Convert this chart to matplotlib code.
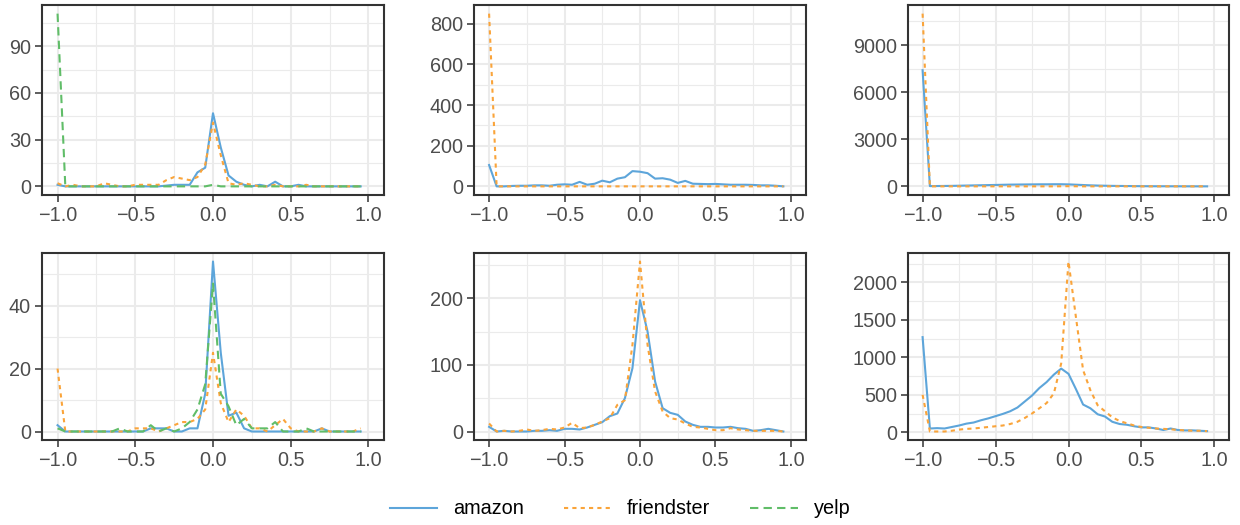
import numpy as np
import matplotlib
matplotlib.use("Agg")
import matplotlib.pyplot as plt
from matplotlib.ticker import MultipleLocator

plt.rcParams['font.family'] = ['Liberation Sans', 'DejaVu Sans']

# bin centres shared by every panel
x = [-1.0, -0.95, -0.9, -0.85, -0.8, -0.75, -0.7, -0.65, -0.6, -0.55,
     -0.5, -0.45, -0.4, -0.35, -0.3, -0.25, -0.2, -0.15, -0.1, -0.05,
     0.0, 0.05, 0.1, 0.15, 0.2, 0.25, 0.3, 0.35, 0.4, 0.45,
     0.5, 0.55, 0.6, 0.65, 0.7, 0.75, 0.8, 0.85, 0.9, 0.95]

# top row
p1_amazon = [1, 0, 0, 0, 0, 0, 0, 0, 0, 0, 0, 0, 0, 0, 0.5, 1, 1, 1, 9, 12,
             47, 25, 7, 3, 1, 0, 1, 0, 3, 0, 0, 1, 0, 0, 0, 0, 0, 0, 0, 0]
p1_friendster = [2, 0, 1, 0, 0, 0, 2, 1, 0, 0, 1, 1, 1, 1, 4, 6, 5, 4, 6, 14,
                 41, 20, 2, 1, 2, 1, 0, 0, 1, 0, 0, 0, 1, 0, 0, 0, 0, 0, 0, 0]
p1_yelp = [111, 0, 0, 0, 0, 0, 0, 0, 0, 0, 0, 0, 0, 0, 0, 0, 0, 0, 0, 0,
           1, 0, 0, 0, 0, 0, 0, 0, 0, 0, 0, 0, 0, 0, 0, 0, 0, 0, 0, 0]

p2_amazon = [105, 0, 0, 2, 3, 3, 5, 5, 3, 8, 10, 8, 22, 8, 13, 28, 20, 38, 45, 75,
             72, 65, 38, 40, 33, 17, 27, 13, 12, 11, 12, 10, 8, 8, 8, 7, 5, 5, 3, 0]
p2_friendster = [850, 0, 0, 0, 0, 0, 0, 0, 0, 0, 0, 0, 0, 0, 0, 0, 0, 0, 0, 0,
                 0, 0, 0, 0, 0, 0, 0, 0, 0, 0, 0, 0, 0, 0, 0, 0, 0, 0, 0, 0]

p3_amazon = [7400, 20, 25, 30, 35, 45, 55, 65, 75, 85, 95, 105, 115, 120, 125, 130, 135, 135, 140, 140,
             130, 110, 90, 70, 55, 45, 35, 30, 25, 20, 15, 12, 10, 10, 8, 8, 6, 5, 5, 4]
p3_friendster = [11000, 5, 5, 5, 5, 5, 5, 5, 5, 5, 5, 5, 5, 5, 5, 5, 5, 5, 5, 10,
                 15, 10, 5, 5, 5, 5, 5, 5, 5, 5, 5, 5, 5, 5, 5, 5, 5, 5, 5, 5]

# bottom row
p4_amazon = [2, 0, 0, 0, 0, 0, 0, 0, 0, 0, 0, 0, 1, 1, 1, 0, 0, 1, 1, 12,
             54, 25, 5, 6, 1, 0, 0, 0, 0, 0, 0, 0, 0, 0, 1, 0, 0, 0, 0, 0]
p4_friendster = [20, 0, 0, 0, 0, 0, 0, 0, 0, 0, 1, 1, 1, 0, 1, 2, 3, 3, 4, 7,
                 25, 9, 3, 7, 5, 1, 1, 0, 2, 4, 1, 0, 0, 0, 1, 0, 0, 0, 0, 1]
p4_yelp = [1, 0, 0, 0, 0, 0, 0, 0, 1, 0, 0, 0, 2, 0, 1, 0, 1, 3, 7, 15,
           47, 12, 8, 2, 4, 1, 1, 1, 3, 0, 0, 0, 1, 0, 0, 0, 0, 0, 0, 0]

p5_amazon = [7, 0, 1, 0, 0, 0, 1, 1, 2, 1, 4, 4, 3, 6, 10, 14, 23, 27, 50, 95,
             197, 150, 75, 35, 28, 25, 15, 10, 7, 7, 6, 6, 7, 5, 4, 1, 2, 4, 2, 0]
p5_friendster = [12, 0, 1, 0, 1, 3, 1, 2, 4, 3, 6, 13, 5, 6, 10, 15, 20, 40, 47, 130,
                 255, 130, 60, 30, 20, 18, 12, 7, 6, 4, 2, 2, 5, 3, 2, 1, 1, 1, 1, 0]

p6_amazon = [1270, 50, 55, 50, 70, 90, 115, 130, 160, 185, 215, 245, 280, 330, 410, 490, 590, 670, 770, 850,
             780, 580, 370, 320, 240, 210, 140, 110, 100, 80, 65, 65, 50, 30, 50, 30, 25, 25, 20, 15]
p6_friendster = [500, 10, 10, 10, 20, 35, 45, 50, 60, 70, 80, 90, 110, 140, 190, 250, 320, 390, 520, 920,
                 2280, 1550, 830, 560, 360, 280, 200, 150, 120, 90, 70, 60, 50, 45, 40, 30, 25, 20, 20, 15]

series_names = ['amazon', 'friendster', 'yelp']
colors = {'amazon': '#5DA5DA', 'friendster': '#FAA43A', 'yelp': '#60BD68'}
dashes = {'amazon': None, 'friendster': (2, 2), 'yelp': (4, 2.5)}

panels = [
    ({'amazon': p1_amazon, 'friendster': p1_friendster, 'yelp': p1_yelp}, 30),
    ({'amazon': p2_amazon, 'friendster': p2_friendster}, 200),
    ({'amazon': p3_amazon, 'friendster': p3_friendster}, 3000),
    ({'amazon': p4_amazon, 'friendster': p4_friendster, 'yelp': p4_yelp}, 20),
    ({'amazon': p5_amazon, 'friendster': p5_friendster}, 100),
    ({'amazon': p6_amazon, 'friendster': p6_friendster}, 500),
]

W, H = 1240, 525
# panel boxes in pixels: left, right, top, bottom
cols = [(42, 384), (474, 806), (908, 1229)]
rows = [(5, 195), (253, 440)]

fig = plt.figure(figsize=(W / 100, H / 100), dpi=100)

for i, (data, step) in enumerate(panels):
    l, r = cols[i % 3]
    t, b = rows[i // 3]
    ax = fig.add_axes([l / W, 1 - b / H, (r - l) / W, (b - t) / H])
    ax.set_axisbelow(True)
    for name in series_names:
        if name not in data:
            continue
        line, = ax.plot(x, data[name], color=colors[name], lw=1.5, label=name)
        if dashes[name] is not None:
            line.set_dashes(dashes[name])
    ax.set_xlim(-1.1, 1.1)
    ax.margins(y=0.05)
    ax.xaxis.set_major_locator(MultipleLocator(0.5))
    ax.xaxis.set_minor_locator(MultipleLocator(0.25))
    ax.yaxis.set_major_locator(MultipleLocator(step))
    ax.yaxis.set_minor_locator(MultipleLocator(step / 2))
    ax.xaxis.set_major_formatter(plt.FuncFormatter(lambda v, p: f"{v:.1f}".replace('-', '\u2212')))
    ax.grid(which='major', color='#EBEBEB', lw=1.5)
    ax.grid(which='minor', color='#EBEBEB', lw=0.8)
    ax.tick_params(which='major', length=5, width=1.1, color='#333333',
                   labelsize=14.3, labelcolor='#4D4D4D', pad=3)
    ax.tick_params(which='minor', length=0)
    for s in ax.spines.values():
        s.set_color('#333333')
        s.set_linewidth(1.5)

handles, labels = fig.axes[0].get_legend_handles_labels()
fig.legend(handles, labels, loc='center', bbox_to_anchor=(0.5, 1 - 509 / H),
           ncol=3, frameon=False, fontsize=14.3, handlelength=2.4,
           handletextpad=0.8, columnspacing=2.0)

fig.savefig('out.png', dpi=100)
